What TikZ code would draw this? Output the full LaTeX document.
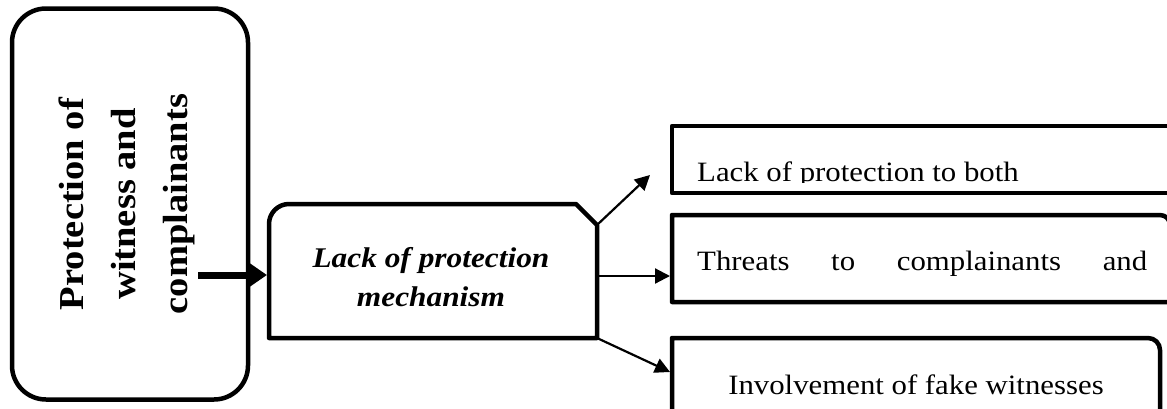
\documentclass[tikz,border=0pt]{standalone}
\usepackage{fontspec}
\setmainfont{Liberation Serif}[FakeStretch=1.1]
\usetikzlibrary{arrows.meta}
\begin{document}
\begin{tikzpicture}[x=1pt,y=-1pt,
  frame/.style={line width=4.5pt, line join=round},
  link/.style={line width=2.2pt, -{Triangle[length=15pt,width=15pt]}},
  mainlink/.style={line width=7pt, -{Triangle[length=20pt,width=26pt]}},
  boxtext/.style={inner sep=0pt, font=\fontsize{28}{36}\selectfont}]
\clip (0,0) rectangle (1167,408);

% left rounded box with rotated title
\node[frame, draw, rounded corners=34pt, minimum width=236pt,
      minimum height=391pt, inner sep=0pt] (prot) at (130,204) {};
\node[rotate=90, align=center, inner sep=0pt,
      font=\bfseries\fontsize{35}{52}\selectfont] (protlabel) at (127,204)
  {Protection of\\witness and\\complainants};

% middle box: rounded top-left corner, snipped top-right corner
\draw[frame] (269,338) -- (269,224) arc[start angle=180, end angle=270, radius=20]
  -- (576,204) -- (597,225) -- (597,338) -- cycle;
\node[align=center, inner sep=0pt,
      font=\bfseries\itshape\fontsize{28.5}{39}\selectfont] (mechlabel) at (431,277)
  {Lack of protection\\mechanism};

% named points on the outlines
\coordinate (tail) at (198,275);
\coordinate (mechin) at (267,275);
\coordinate (snip) at (597,225);
\coordinate (mechout) at (597,276);
\coordinate (mechcorner) at (597,338);
\coordinate (upend) at (650,175);
\coordinate (midend) at (670,276);
\coordinate (lowend) at (670,372);

% right boxes; the first text is cut off just under its baseline
\begin{scope}
  \clip (674.25,128.25) rectangle (1167,182.5);
  \node[boxtext, anchor=base west] (lackboth) at (697,181) {Lack of protection to both};
\end{scope}
\draw[frame] (1180,126) -- (672,126) -- (672,193) -- (1180,193);

\node[boxtext, anchor=base west] (threats) at (697,270)
  {\makebox[450pt]{Threats\hfill to\hfill complainants\hfill and}};
\draw[frame] (1170,302) -- (672,302) -- (672,215) -- (1160,215)
  arc[start angle=270, end angle=360, radius=10] -- (1170,302);

\node[boxtext, anchor=base] (fakewit) at (916,394) {Involvement of fake witnesses};
\draw[frame] (672,412) -- (672,338) -- (1148,338)
  arc[start angle=270, end angle=360, radius=12] -- (1160,412);

% connectors
\draw[mainlink] (tail) -- (mechin);
\draw[link] (snip) -- (upend);
\draw[link] (mechout) -- (midend);
\draw[link] (mechcorner) -- (lowend);
\end{tikzpicture}
\end{document}
